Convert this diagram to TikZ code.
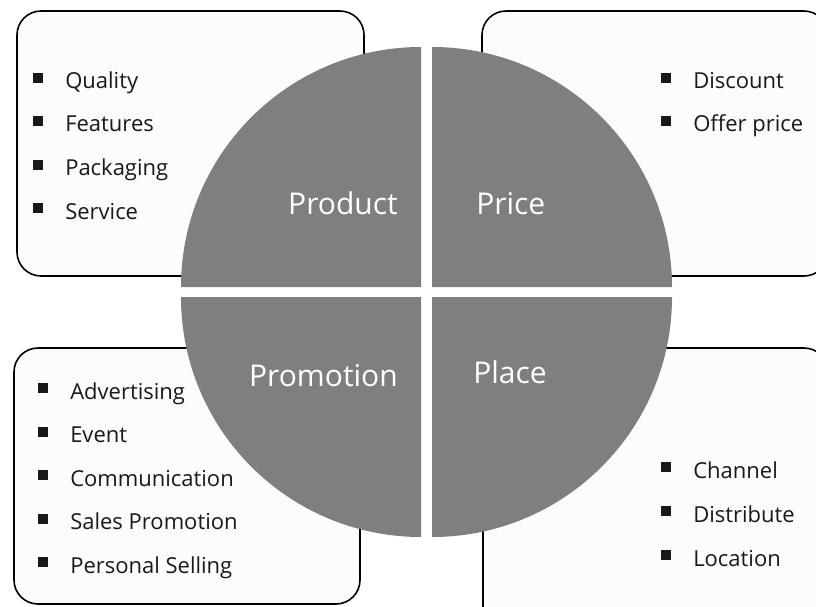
\documentclass[tikz,border=0pt]{standalone}
\usepackage{fontspec}
\setmainfont{Open Sans}
\newcommand{\bul}{\rule[4.5pt]{7.5pt}{7.5pt}\hspace{16.5pt}}
\begin{document}
\begin{tikzpicture}[x=0.75pt, y=-0.75pt,
  item/.style={anchor=base west, inner sep=0pt, font=\fontsize{16.5}{18}\selectfont, text=black!90},
  label/.style={inner sep=0pt, font=\fontsize{22.5}{24}\selectfont, text=white},
  card/.style={draw=black, line width=1.2pt, fill=col, rounded corners=18}]
\useasboundingbox (0,0) rectangle (816,606);
\clip (0,0) rectangle (816,606);
\definecolor{col}{HTML}{FCFCFC}
\draw[card] (17,11) rectangle (364,276);
\draw[card] (482,11) rectangle (828,276);
\draw[card] (14,348) rectangle (360,604);
\draw[card] (483,348) rectangle (828,640);
\definecolor{col}{HTML}{7F7F7F}
\fill[col] (421,287) -- (181,287) arc[start angle=180, end angle=270, radius=240] -- cycle;
\fill[col] (432,287) -- (432,47) arc[start angle=270, end angle=360, radius=240] -- cycle;
\fill[col] (432,297) -- (672,297) arc[start angle=0, end angle=90, radius=240] -- cycle;
\fill[col] (421,297) -- (421,537) arc[start angle=90, end angle=180, radius=240] -- cycle;
% quadrant labels
\node[label, anchor=base east] (product) at (398,214) {Product};
\node[label, anchor=base west] (price) at (476,214) {Price};
\node[label, anchor=base east] (promotion) at (398,386) {Promotion};
\node[label, anchor=base west] (place) at (473,383) {Place};
% product
\node[item] (quality) at (33,89) {\bul Quality};
\node[item] (features) at (33,132) {\bul Features};
\node[item] (packaging) at (33,175.5) {\bul Packaging};
\node[item] (service) at (33,219) {\bul Service};
% price
\node[item] (discount) at (661,89) {\bul Discount};
\node[item] (offer) at (661,132) {\bul Offer price};
% promotion
\node[item] (advertising) at (38,399) {\bul Advertising};
\node[item] (event) at (38,442.5) {\bul Event};
\node[item] (communication) at (38,486) {\bul Communication};
\node[item] (sales) at (38,529.5) {\bul Sales Promotion};
\node[item] (selling) at (38,573) {\bul Personal Selling};
% place
\node[item] (channel) at (661,478) {\bul Channel};
\node[item] (distribute) at (661,522) {\bul Distribute};
\node[item] (location) at (661,566) {\bul Location};
\end{tikzpicture}
\end{document}
